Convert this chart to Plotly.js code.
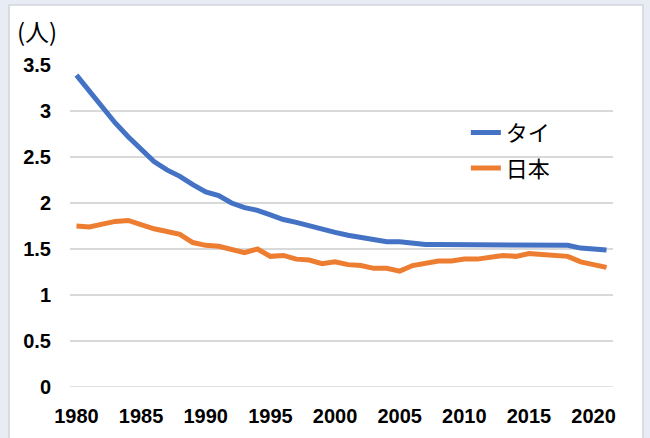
<!DOCTYPE html>
<html>
<head>
<meta charset="utf-8">
<script src="https://cdn.plot.ly/plotly-3.0.1.min.js"></script>
<style>html,body{margin:0;padding:0;background:#e8ecf4;}#chart{width:650px;height:438px;}</style>
</head>
<body>
<div id="chart"></div>
<script>
const years = [1980,1981,1982,1983,1984,1985,1986,1987,1988,1989,1990,1991,1992,1993,1994,1995,1996,1997,1998,1999,2000,2001,2002,2003,2004,2005,2006,2007,2008,2009,2010,2011,2012,2013,2014,2015,2016,2017,2018,2019,2020,2021];
const thailand = [3.39,3.21,3.03,2.87,2.72,2.59,2.45,2.36,2.29,2.20,2.12,2.08,2.00,1.95,1.92,1.87,1.82,1.79,1.75,1.71,1.68,1.65,1.63,1.60,1.58,1.58,1.56,1.55,1.55,1.55,1.54,1.54,1.54,1.54,1.54,1.54,1.54,1.54,1.54,1.51,1.50,1.49];
const japan = [1.75,1.74,1.77,1.80,1.81,1.76,1.72,1.69,1.66,1.57,1.54,1.53,1.50,1.46,1.50,1.42,1.43,1.39,1.38,1.34,1.36,1.33,1.32,1.29,1.29,1.26,1.32,1.34,1.37,1.37,1.39,1.39,1.41,1.43,1.42,1.45,1.44,1.43,1.42,1.36,1.33,1.30];
const seriesNames = ["タイ","日本"];
const xTickVals = [1980,1985,1990,1995,2000,2005,2010,2015,2020];
const unitLabel = "(人)";

const tickFont = {family: "Liberation Sans, Arial, sans-serif", size: 20, color: "#000000", weight: "bold"};
const traces = [
  {x: years, y: thailand, name: seriesNames[0], type: "scatter", mode: "lines",
   line: {color: "#4472C4", width: 5}, legendgroup: "a", hoverinfo: "skip"},
  {x: years, y: japan, name: seriesNames[1], type: "scatter", mode: "lines",
   line: {color: "#ED7D31", width: 5}, legendgroup: "b", hoverinfo: "skip"}
];
const layout = {
  width: 650, height: 438,
  margin: {l: 70, r: 37, t: 65, b: 51},
  paper_bgcolor: "#e8ecf4",
  plot_bgcolor: "rgba(0,0,0,0)",
  showlegend: true,
  legend: {x: 0.729, y: 0.855, xanchor: "left", yanchor: "top",
    bgcolor: "rgba(0,0,0,0)", traceorder: "grouped", tracegroupgap: 4,
    font: {family: "Noto Sans CJK JP, sans-serif", size: 22, color: "#000000"}},
  xaxis: {range: [1979.5, 2021.5], tickvals: xTickVals, showgrid: false, zeroline: false,
    showline: false, ticks: "", tickfont: tickFont, ticklabelstandoff: 15, fixedrange: true},
  yaxis: {range: [0, 3.5], dtick: 0.5, showgrid: true, gridcolor: "#d9d9d9", gridwidth: 1.5,
    zeroline: false, showline: false, ticks: "", tickfont: tickFont, ticklabelstandoff: 18, fixedrange: true},
  shapes: [
    {type: "rect", xref: "paper", yref: "paper", x0: -0.1123, x1: 1.0552, y0: -0.2, y1: 1.1863,
     fillcolor: "#ffffff", line: {color: "#d0d4dc", width: 1.5}, layer: "below"},
    {type: "line", xref: "paper", yref: "y", x0: 0, x1: 1, y0: 0, y1: 0,
     line: {color: "#d9d9d9", width: 1.5}, layer: "below"}
  ],
  annotations: [
    {text: unitLabel, xref: "paper", yref: "paper", x: -0.0615, y: 1.108,
     xanchor: "center", yanchor: "middle", showarrow: false,
     font: {family: "Noto Sans CJK JP, sans-serif", size: 24, color: "#000000"}}
  ]
};
Plotly.newPlot("chart", traces, layout, {displayModeBar: false, staticPlot: true});
</script>
</body>
</html>
